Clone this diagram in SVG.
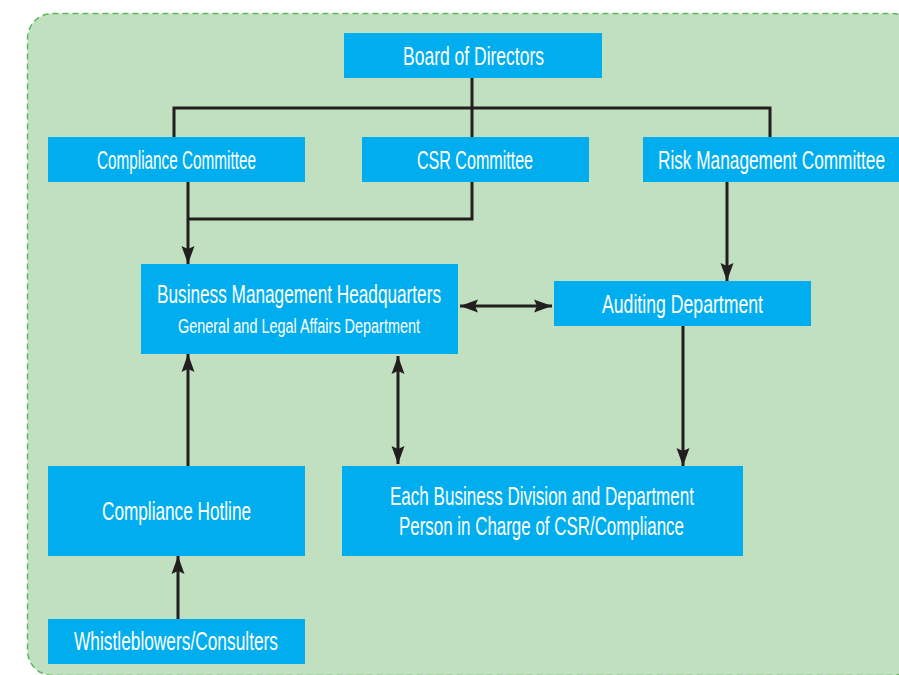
<svg xmlns="http://www.w3.org/2000/svg" width="899" height="675" viewBox="0 0 899 675">
  <defs>
    <marker id="arrow" viewBox="0 0 18 13" refX="18" refY="6.5" markerWidth="6" markerHeight="4.4" markerUnits="strokeWidth" orient="auto-start-reverse">
      <path d="M0,0 L18,6.5 L0,13 L3,6.5 z" fill="#231f20"/>
    </marker>
    <style>
      .box { fill: #00aeef; }
      .lbl { fill: #ffffff; font-family: "Liberation Sans", Arial, sans-serif; font-size: 25px; text-anchor: middle; }
      .sub { font-size: 20px; }
      .wire { fill: none; stroke: #231f20; stroke-width: 3; }
    </style>
  </defs>

  <rect width="899" height="675" fill="#ffffff"/>
  <!-- panel -->
  <rect x="27.5" y="13.5" width="890" height="662" rx="25" fill="#c1e0c0" stroke="#5cb85c" stroke-width="1.5" stroke-dasharray="6 4"/>

  <!-- connectors -->
  <g id="connectors" class="wire">
    <path d="M472,78 V108 M174,137 V108 H770 V137 M472,108 V137"/>
    <path d="M472,182 V219 H188"/>
    <path d="M188,182 V264" marker-end="url(#arrow)"/>
    <path d="M727,182 V281" marker-end="url(#arrow)"/>
    <path d="M460,306 H552" marker-start="url(#arrow)" marker-end="url(#arrow)"/>
    <path d="M398,356 V464" marker-start="url(#arrow)" marker-end="url(#arrow)"/>
    <path d="M683,326 V466" marker-end="url(#arrow)"/>
    <path d="M188,466 V354" marker-end="url(#arrow)"/>
    <path d="M178,619 V556" marker-end="url(#arrow)"/>
  </g>

  <g id="board">
    <rect class="box" x="344" y="33" width="258" height="45"/>
    <text class="lbl" x="473.5" y="65" textLength="141" lengthAdjust="spacingAndGlyphs">Board of Directors</text>
  </g>
  <g id="compliance-committee">
    <rect class="box" x="48" y="137" width="257" height="45"/>
    <text class="lbl" x="176.5" y="168.5" textLength="159" lengthAdjust="spacingAndGlyphs">Compliance Committee</text>
  </g>
  <g id="csr-committee">
    <rect class="box" x="362" y="137" width="227" height="45"/>
    <text class="lbl" x="475" y="168.5" textLength="116" lengthAdjust="spacingAndGlyphs">CSR Committee</text>
  </g>
  <g id="risk-committee">
    <rect class="box" x="643" y="137" width="256" height="45"/>
    <!-- narrowed horizontally so the label stays inside the right edge -->
    <text class="lbl" transform="translate(771.5,168.5) scale(0.69,1)" x="0" y="0">Risk Management Committee</text>
  </g>
  <g id="business-hq">
    <rect class="box" x="141" y="264" width="317" height="90"/>
    <text class="lbl" x="299" y="303" textLength="284" lengthAdjust="spacingAndGlyphs">Business Management Headquarters</text>
    <text class="lbl sub" x="299" y="333" textLength="242" lengthAdjust="spacingAndGlyphs">General and Legal Affairs Department</text>
  </g>
  <g id="auditing">
    <rect class="box" x="554" y="281" width="257" height="45"/>
    <text class="lbl" x="682.5" y="312.5" textLength="161" lengthAdjust="spacingAndGlyphs">Auditing Department</text>
  </g>
  <g id="hotline">
    <rect class="box" x="48" y="466" width="257" height="90"/>
    <text class="lbl" x="176.5" y="520" textLength="149" lengthAdjust="spacingAndGlyphs">Compliance Hotline</text>
  </g>
  <g id="divisions">
    <rect class="box" x="342" y="466" width="401" height="90"/>
    <text class="lbl" x="542" y="505" textLength="304" lengthAdjust="spacingAndGlyphs">Each Business Division and Department</text>
    <text class="lbl" x="541.5" y="535" textLength="285" lengthAdjust="spacingAndGlyphs">Person in Charge of CSR/Compliance</text>
  </g>
  <g id="whistleblowers">
    <rect class="box" x="48" y="619" width="257" height="45"/>
    <text class="lbl" x="176" y="650" textLength="204" lengthAdjust="spacingAndGlyphs">Whistleblowers/Consulters</text>
  </g>
</svg>
